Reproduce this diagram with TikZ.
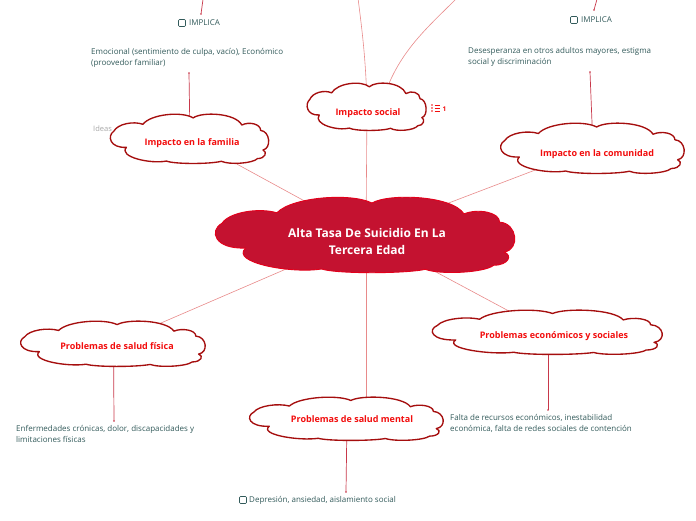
\documentclass[tikz,border=0pt]{standalone}
\usepackage{fontspec}
\setmainfont{Open Sans}
\usetikzlibrary{backgrounds,calc}
\pgfdeclarelayer{clouds}
\pgfsetlayers{background,clouds,main}
\definecolor{mainfill}{HTML}{C41230}
\definecolor{mainborder}{HTML}{E3001B}
\definecolor{cloudborder}{HTML}{A50E0E}
\definecolor{labelred}{HTML}{F20D0D}
\definecolor{linklight}{HTML}{E88A8A}
\definecolor{linkdark}{HTML}{C8384A}
\definecolor{bodytext}{HTML}{325A5A}
\tikzset{
  maincloudpath/.style={fill=mainfill, draw=mainborder, line width=0.9pt, line join=round},
  subcloudpath/.style={fill=white, draw=cloudborder, line width=1.35pt, line join=round},
  mainlabel/.style={text=white, align=center, font=\bfseries\fontsize{12}{17}\selectfont, inner sep=0pt},
  sublabel/.style={text=labelred, font=\bfseries\fontsize{9}{10}\selectfont, inner sep=0pt},
  mainlink/.style={draw=linklight, line width=0.6pt},
  sublink/.style={draw=linkdark, line width=0.7pt},
  enddot/.style={fill=linkdark, circle, inner sep=0pt, minimum size=1.6pt},
  bodynode/.style={text=bodytext, font=\fontsize{8}{11}\selectfont, align=left, inner sep=0pt},
  checkbox/.style={draw=bodytext, line width=0.6pt, rounded corners=1pt, minimum size=7pt, inner sep=0pt},
}
% #1 cx, #2 cy, #3 width, #4 height, #5 style, #6 name of centre coordinate
\newcommand{\mycloud}[6]{%
\coordinate (#6) at (#1,#2);
\begin{pgfonlayer}{clouds}
\begin{scope}[shift={(#1,#2)}, xscale=#3/2, yscale=#4/2]
\path[#5] (-0.81,0.36)
 .. controls (-1.02,0.40) and (-1.06,-0.10) .. (-0.97,-0.30)
 .. controls (-0.92,-0.60) and (-0.72,-0.72) .. (-0.60,-0.58)
 .. controls (-0.50,-1.00) and (-0.10,-1.12) .. (0.04,-0.84)
 .. controls (0.15,-1.10) and (0.58,-1.05) .. (0.66,-0.55)
 .. controls (0.75,-0.70) and (0.90,-0.60) .. (0.90,-0.33)
 .. controls (1.02,-0.30) and (1.04,0.40) .. (0.93,0.47)
 .. controls (0.99,0.55) and (0.96,0.82) .. (0.86,0.82)
 .. controls (0.80,1.02) and (0.50,1.08) .. (0.40,0.93)
 .. controls (0.25,1.05) and (-0.20,1.05) .. (-0.30,0.92)
 .. controls (-0.50,1.05) and (-0.92,0.75) .. (-0.81,0.36) -- cycle;
\end{scope}
\end{pgfonlayer}}
\begin{document}
\begin{tikzpicture}[x=1pt,y=-1pt]
\useasboundingbox (0,0) rectangle (696,520);
\clip (0,0) rectangle (696,520);

% ideas text (behind clouds)
\begin{pgfonlayer}{background}
\node[anchor=west, text=gray!70, font=\fontsize{7.5}{8}\selectfont, inner sep=0pt] (ideas) at (93,129) {Ideas};
\end{pgfonlayer}

% labels
\node[mainlabel] (m) at (367,241.5) {Alta Tasa De Suicidio En La\\Tercera Edad};
\node[sublabel] (soc) at (368,113) {Impacto social};
\node[sublabel] (fam) at (192,143) {Impacto en la familia};
\node[sublabel] (com) at (597,154) {Impacto en la comunidad};
\node[sublabel] (fis) at (117,346) {Problemas de salud física};
\node[sublabel] (men) at (352,419) {Problemas de salud mental};
\node[sublabel] (eco) at (554,336) {Problemas económicos y sociales};

% clouds
\mycloud{366}{234.5}{297}{75}{maincloudpath}{mc}
\mycloud{367}{106.5}{118}{47}{subcloudpath}{socc}
\mycloud{190}{138.5}{157}{49}{subcloudpath}{famc}
\mycloud{593}{148}{182}{50}{subcloudpath}{comc}
\mycloud{113.5}{343.5}{183}{45}{subcloudpath}{fisc}
\mycloud{347}{418.5}{192}{43}{subcloudpath}{menc}
\mycloud{548}{332}{228}{44}{subcloudpath}{ecoc}

% body texts
\node[bodynode, anchor=north west] (tfam) at (91,48.2) {Emocional (sentimiento de culpa, vacío), Económico\\(proovedor familiar)};
\node[bodynode, anchor=north west] (tcom) at (468,47.2) {Desesperanza en otros adultos mayores, estigma\\social y discriminación};
\node[bodynode, anchor=north west] (tfis) at (16,425.2) {Enfermedades crónicas, dolor, discapacidades y\\limitaciones físicas};
\node[bodynode, anchor=north west] (teco) at (450,414.2) {Falta de recursos económicos, inestabilidad\\económica, falta de redes sociales de contención};
\node[checkbox] (cbm) at (243,500) {};
\node[bodynode, anchor=west] (tmen) at (249,500) {Depresión, ansiedad, aislamiento social};
\node[checkbox] (cb1) at (182,23) {};
\node[bodynode, anchor=west] (imp1) at (189,23) {IMPLICA};
\node[checkbox] (cb2) at (574,20) {};
\node[bodynode, anchor=west] (imp2) at (581,20) {IMPLICA};

% list icon
\node[text=labelred, font=\bfseries\fontsize{6.5}{7}\selectfont, inner sep=0pt, anchor=west] (cnt) at (442.5,109) {1};
\foreach \yy in {105,108,111}{
  \fill[labelred] (432,\yy) circle (0.85pt);
  \draw[labelred, line width=0.85pt] (434.5,\yy) -- (440,\yy);
}

% off-page and end coordinates
\coordinate (top1) at (358,-2);
\coordinate (top2) at (457,-2);
\coordinate (up1) at (203.2,-2);
\coordinate (up2) at (597.3,-2);
\coordinate (e1) at (201,14);
\coordinate (e2) at (594,10);
\coordinate (efam) at (189,73);
\coordinate (ecom) at (590,72);
\coordinate (efis) at (114,421);
\coordinate (emen) at (346,492);
\coordinate (eeco) at (548,410);

\begin{scope}[on background layer]
  \draw[mainlink] (mc) -- (famc);
  \draw[mainlink] (mc) -- (socc);
  \draw[mainlink] (mc) -- (comc);
  \draw[mainlink] (mc) -- (fisc);
  \draw[mainlink] (mc) -- (mc |- menc);
  \draw[mainlink] (mc) -- (ecoc);
  \draw[mainlink] (socc) .. controls (366,60) and (362,30) .. (top1);
  \draw[mainlink] ($(socc)+(14,0)$) .. controls (395,55) and (425,30) .. (top2);
  \draw[sublink] (famc) -- (efam);
  \draw[sublink] (comc) -- (ecom);
  \draw[sublink] (fisc) -- (efis);
  \draw[sublink] (menc) -- (emen);
  \draw[sublink] (ecoc) -- (eeco);
  \draw[sublink] (up1) -- (e1);
  \draw[sublink] (up2) -- (e2);
\end{scope}
\foreach \c in {efam,ecom,efis,emen,eeco,e1,e2}{\node[enddot] at (\c) {};}
\end{tikzpicture}
\end{document}
